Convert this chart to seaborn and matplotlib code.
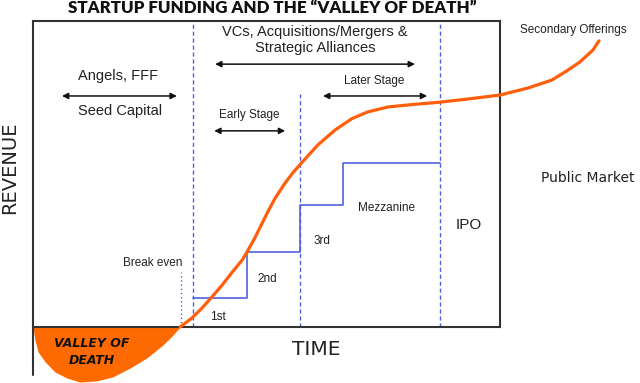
import matplotlib
matplotlib.use("Agg")
import matplotlib.pyplot as plt
import pandas as pd
import seaborn as sns

# revenue curve (time 0..100 inside the box, revenue 0..100)
curve_t = [31.5, 34.0, 36.2, 38.3, 40.5, 42.6, 44.8, 46.0, 47.5, 49.0, 50.3, 51.8,
           54.0, 55.7, 57.2, 58.9, 61.0, 64.7, 68.3, 71.7, 76.0, 81.2, 86.7, 93.1,
           100.0, 106.0, 111.1, 114.3, 117.1, 119.9, 121.2]
curve_r = [0.0, 2.9, 6.2, 9.8, 13.7, 17.8, 21.9, 25.0, 29.1, 33.7, 37.7, 42.0,
           47.1, 50.5, 53.1, 56.0, 59.5, 64.4, 68.1, 70.3, 71.9, 72.7, 73.4, 74.5,
           75.8, 78.1, 80.7, 83.7, 86.6, 90.5, 93.5]

# valley of death (below the time axis)
valley_t = [0.0, 0.4, 1.1, 2.6, 4.7, 7.3, 10.1, 13.7, 17.1, 20.8, 24.4, 27.8, 30.0, 31.5]
valley_r = [0.0, -4.2, -8.2, -11.4, -14.7, -16.7, -18.0, -17.6, -16.3, -13.4, -10.1, -5.9, -2.6, 0.0]

# funding rounds (steps)
round_t = [34.3, 45.8, 57.2, 66.4, 87.2]
round_r = [9.5, 24.5, 39.9, 53.6, 53.6]
round_labels = ["1st", "2nd", "3rd", "Mezzanine"]

# stage boundaries
break_even_t = 31.7
vc_start_t = 34.3
later_start_t = 57.2
ipo_t = 87.2

ORANGE = "#ff5f0a"
FILL = "#ff6a00"
BLUE = "#4f62dc"
DARK = "#333333"

sns.set_style("white")
plt.rcParams["font.family"] = ["Liberation Sans", "DejaVu Sans"]

fig = plt.figure(figsize=(6.4, 3.83), dpi=100)
ax = fig.add_axes([33 / 640, 56 / 383, 467 / 640, 306 / 383])
ax.set_xlim(0, 100)
ax.set_ylim(0, 100)
ax.set_xticks([])
ax.set_yticks([])
for side in ["top", "right", "bottom"]:
    ax.spines[side].set_color(DARK)
    ax.spines[side].set_linewidth(1.5)
ax.spines["left"].set_visible(False)
ax.plot([0, 0], [-15.7, 100], color=DARK, lw=1.5, clip_on=False, zorder=3)

# valley
ax.fill_between(valley_t, valley_r, 0, color=FILL, lw=0, clip_on=False, zorder=2)

# stage separators
ax.plot([vc_start_t, vc_start_t], [0, 100], color=BLUE, lw=1.0, ls=(0, (3, 2)), zorder=1)
ax.plot([later_start_t, later_start_t], [0, 76.1], color=BLUE, lw=1.0, ls=(0, (3, 2)), zorder=1)
ax.plot([ipo_t, ipo_t], [0, 100], color=BLUE, lw=1.0, ls=(0, (3, 2)), zorder=1)
ax.plot([break_even_t, break_even_t], [0, 18.0], color=BLUE, lw=1.0, ls=(0, (1, 2)), zorder=1)

# funding steps
steps = pd.DataFrame({"t": round_t, "r": round_r})
sns.lineplot(data=steps, x="t", y="r", ax=ax, color=BLUE, lw=1.2,
             drawstyle="steps-post", estimator=None, zorder=2)

# revenue curve
curve = pd.DataFrame({"t": curve_t, "r": curve_r})
sns.lineplot(data=curve, x="t", y="r", ax=ax, color=ORANGE, lw=2.3, sort=False,
             estimator=None, clip_on=False, zorder=4, solid_joinstyle="round",
             solid_capstyle="round")
ax.set_xlabel("")
ax.set_ylabel("")


def double_arrow(x0, x1, y):
    ax.annotate("", xy=(x1, y), xytext=(x0, y),
                arrowprops=dict(arrowstyle="<|-|>", color="#111111", lw=1.1,
                                mutation_scale=9, shrinkA=0, shrinkB=0))


double_arrow(6.2, 30.8, 75.5)
double_arrow(39.0, 81.8, 85.9)
double_arrow(38.8, 54.0, 64.1)
double_arrow(62.1, 84.4, 75.5)

txt = dict(ha="center", va="center", color="#222222", clip_on=False)
ax.text(18.2, 82.0, "Angels, FFF", fontsize=10.5, **txt)
ax.text(18.6, 70.6, "Seed Capital", fontsize=10.5, **txt)
ax.text(60.4, 93.8, "VCs, Acquisitions/Mergers &\nStrategic Alliances", fontsize=10.5,
        linespacing=1.1, **txt)
ax.text(46.3, 69.3, "Early Stage", fontsize=8.5, **txt)
ax.text(73.0, 80.4, "Later Stage", fontsize=8.5, **txt)
ax.text(115.6, 97.1, "Secondary Offerings", fontsize=8.5, **txt)
ax.text(118.8, 48.7, "Public Market", fontsize=10, family="DejaVu Sans", **txt)
ax.text(93.4, 33.3, "IPO", fontsize=11, **txt)
ax.text(39.6, 3.3, round_labels[0], fontsize=8.5, **txt)
ax.text(50.1, 15.7, round_labels[1], fontsize=8.5, **txt)
ax.text(61.9, 28.1, round_labels[2], fontsize=8.5, **txt)
ax.text(75.6, 38.9, round_labels[3], fontsize=8.5, **txt)
ax.text(25.7, 20.9, "Break even", fontsize=8.5, **txt)
ax.text(12.6, -8.2, "VALLEY OF\nDEATH", fontsize=9, fontweight="bold", style="italic",
        family="DejaVu Sans", linespacing=1.35, ha="center", va="center", color="#111111",
        clip_on=False, zorder=5)
ax.text(60.6, -7.2, "TIME", fontsize=14.5, family="DejaVu Sans", **txt)
ax.text(-4.9, 52.0, "REVENUE", fontsize=14, rotation=90, family="DejaVu Sans", **txt)

fig.text(272 / 640, 1 - 8 / 383, "STARTUP FUNDING AND THE \u201cVALLEY OF DEATH\u201d",
         ha="center", va="center", fontsize=12.2, fontweight="heavy",
         family="Lato", color="#111111")

fig.savefig("out.png", dpi=100)
